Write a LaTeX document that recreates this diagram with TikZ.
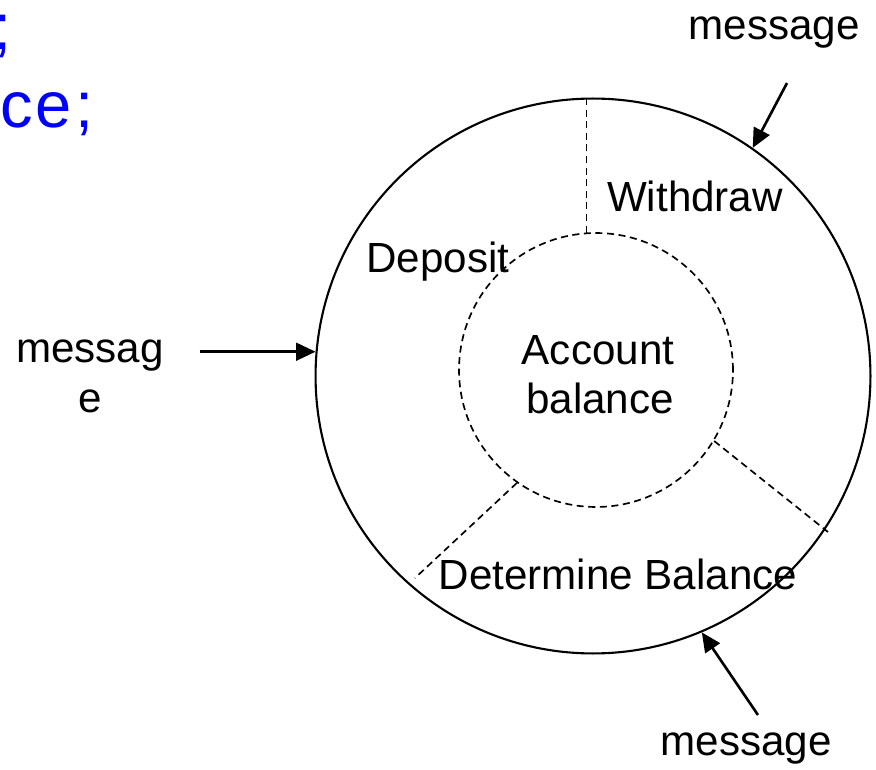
\documentclass[tikz,border=0pt]{standalone}
\usepackage{fontspec}
\setmainfont{Liberation Sans}
\usetikzlibrary{arrows.meta}
\begin{document}
\begin{tikzpicture}[x=0.02cm,y=-0.02cm,
  lbl/.style={font=\fontsize{24}{28}\selectfont, inner sep=0pt, anchor=base},
  blue text/.style={font=\fontsize{37}{44}\selectfont, text=blue, inner sep=0pt, anchor=base east},
  arr/.style={line width=1.5pt, -{Triangle[length=11pt,width=10pt]}},
  div/.style={line width=0.95pt, dash pattern=on 4pt off 2.6pt},
]
\useasboundingbox (0,0) rectangle (876,770);
% blue code fragments cut by the frame
\node[blue text] (code1) at (12,50) {;};
\node[blue text] (code2) at (94,128) {nc\kern1pt e\kern2.5pt;};
% circles
\node[circle, draw, line width=1.2pt, minimum size=11.1cm, inner sep=0pt] (outer) at (593,376) {};
\node[circle, draw, div, minimum size=5.48cm, inner sep=0pt] (inner) at (596,370) {};
% dividers
\coordinate (divR) at (828,532);
\coordinate (divL) at (415,578);
\draw[div] (inner.94) -- (inner.94 |- outer.north);
\draw[div] (inner.-31) -- (divR);
\draw[div] (inner.-125) -- (divL);
% labels
\node[lbl] (withdraw) at (695,212) {Withdraw};
\node[lbl] (deposit) at (438,273) {Deposit};
\node[lbl] (account) at (598,364) {Account};
\node[lbl] (balance) at (600,413) {balance};
\node[lbl] (determine) at (618,589) {Determine Balance};
\node[lbl] (msgtop) at (774,40) {message};
\node[lbl] (msgbot) at (746,755) {message};
\node[lbl] (msgleft1) at (90,362) {messag};
\node[lbl] (msgleft2) at (90,412) {e};
% arrows
\path (outer.175.5) ++(-116,0) coordinate (tailL);
\coordinate (tailT) at (787,83);
\coordinate (tailB) at (758,715);
\draw[arr] (tailL) -- (outer.175.5);
\draw[arr] (tailT) -- (outer.55);
\draw[arr] (tailB) -- (outer.-67);
\end{tikzpicture}
\end{document}
